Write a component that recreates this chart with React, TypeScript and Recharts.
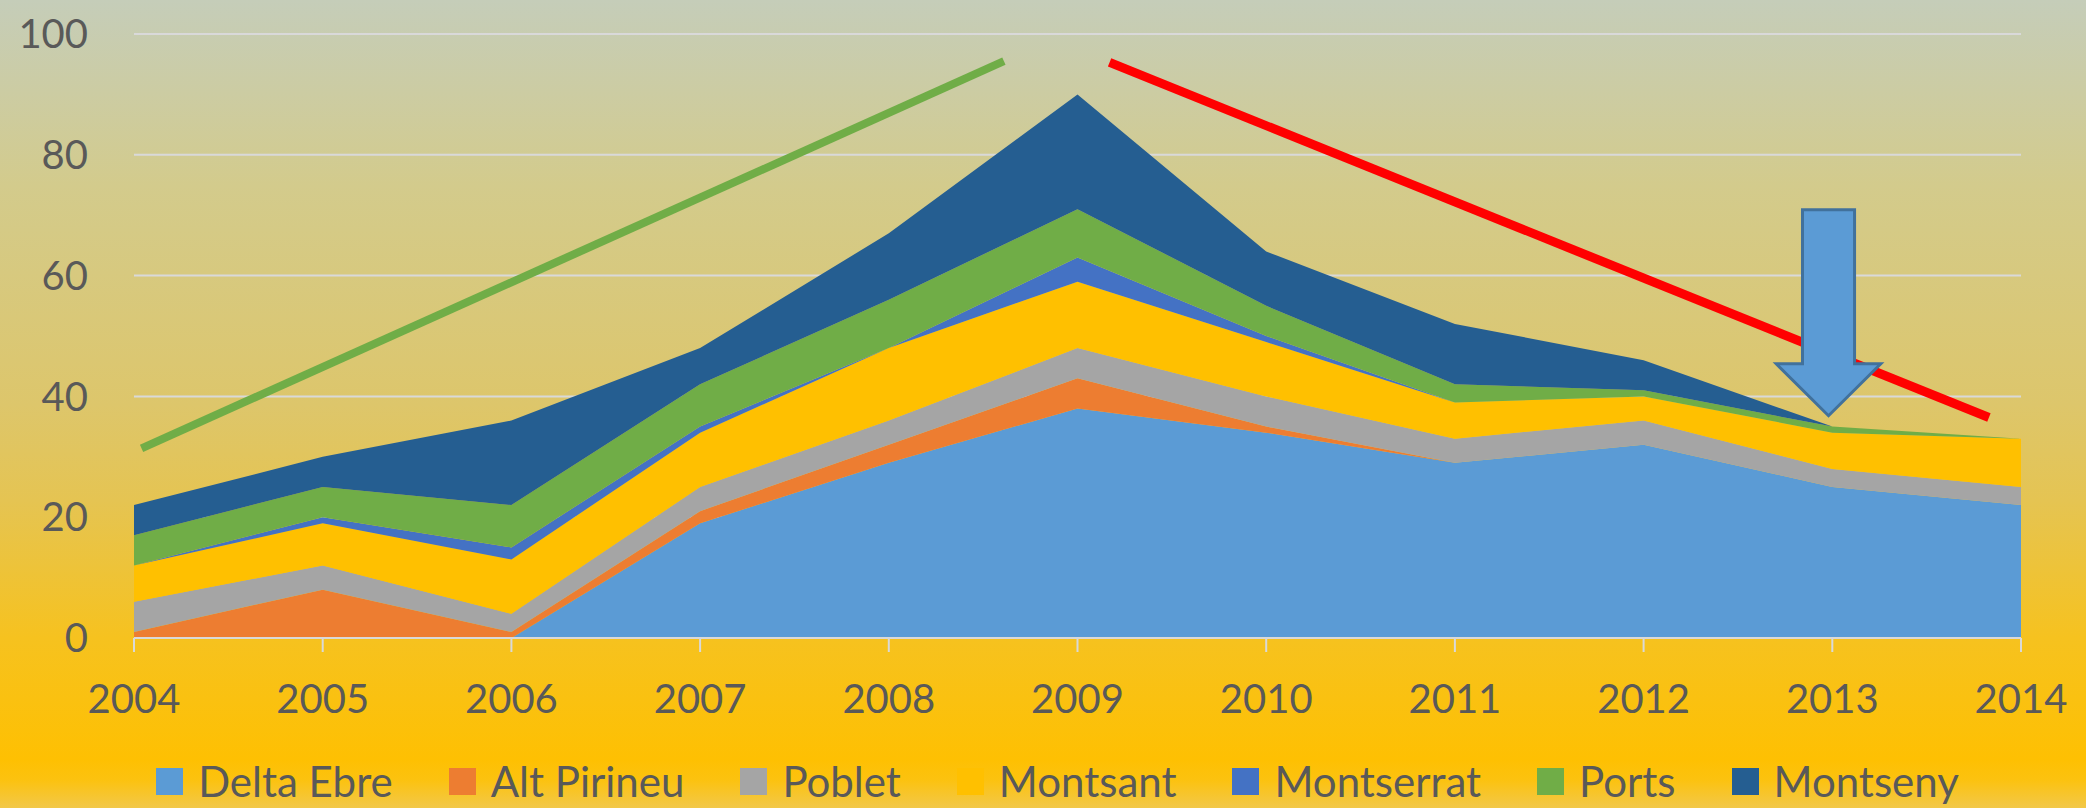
import React from 'react';
import {
  Area,
  AreaChart,
  CartesianGrid,
  Legend,
  ReferenceArea,
  ReferenceLine,
  XAxis,
  YAxis
} from 'recharts';

// years on the x axis
const years = [2004, 2005, 2006, 2007, 2008, 2009, 2010, 2011, 2012, 2013, 2014];

// values per park
const deltaEbre = [0, 0, 0, 19, 29, 38, 34, 29, 32, 25, 22];
const altPirineu = [1, 8, 1, 2, 3, 5, 1, 0, 0, 0, 0];
const poblet = [5, 4, 3, 4, 4, 5, 5, 4, 4, 3, 3];
const montsant = [6, 7, 9, 9, 12, 11, 9, 6, 4, 6, 8];
const montserrat = [0, 1, 2, 1, 0, 4, 1, 0, 0, 0, 0];
const ports = [5, 5, 7, 7, 8, 8, 5, 3, 1, 1, 0];
const montseny = [5, 5, 14, 6, 11, 19, 9, 10, 5, 0, 0];

const yTicks = [0, 20, 40, 60, 80, 100];

const seriesNames = ['Delta Ebre', 'Alt Pirineu', 'Poblet', 'Montsant', 'Montserrat', 'Ports', 'Montseny'];
const seriesValues = [deltaEbre, altPirineu, poblet, montsant, montserrat, ports, montseny];
const seriesColors = ['#5B9BD5', '#ED7D31', '#A5A5A5', '#FFC000', '#4472C4', '#70AD47', '#255E91'];

// hand drawn annotations (data coordinates)
const riseLine = [
  { x: 2004.04, y: 31.4 },
  { x: 2008.61, y: 95.5 }
];
const fallLine = [
  { x: 2009.17, y: 95.3 },
  { x: 2013.83, y: 36.5 }
];
const arrowBox = { x1: 2012.703, x2: 2013.257, y1: 36.8, y2: 70.9 };

const FONT = 'Lato, "Open Sans", sans-serif';
const TEXT = '#595959';
const GRID = '#D9D9D9';

const data = years.map((year, i) => {
  const row: any = { year };
  seriesNames.forEach((name, s) => {
    row[name] = seriesValues[s][i];
  });
  return row;
});

const ArrowShape = (props: any) => {
  const { x, y, width, height } = props;
  const cx = x + width / 2;
  const shaftHalf = (width * 0.498) / 2;
  const headY = y + height * (1 - 0.252);
  const pts = [
    [cx - shaftHalf, y],
    [cx + shaftHalf, y],
    [cx + shaftHalf, headY],
    [x + width, headY],
    [cx, y + height],
    [x, headY],
    [cx - shaftHalf, headY]
  ]
    .map((p) => p.join(','))
    .join(' ');
  return <polygon points={pts} fill="#5B9BD5" stroke="#41719C" strokeWidth={3} />;
};

const renderLegend = () => (
  <div
    style={{
      display: 'flex',
      justifyContent: 'center',
      alignItems: 'center',
      height: 56,
      paddingLeft: 29,
      paddingTop: 2,
      boxSizing: 'border-box',
      fontFamily: FONT,
      fontSize: 42,
      color: TEXT,
      gap: 56
    }}
  >
    {seriesNames.map((name, i) => (
      <div key={name} style={{ display: 'flex', alignItems: 'center' }}>
        <span style={{ width: 27, height: 27, background: seriesColors[i], marginRight: 15, display: 'inline-block' }} />
        <span style={{ lineHeight: '56px' }}>{name}</span>
      </div>
    ))}
  </div>
);

export default function App() {
  return (
    <div
      style={{
        position: 'absolute',
        left: 0,
        top: 0,
        width: 2086,
        height: 808,
        background:
          'linear-gradient(to bottom, #C5CDB9 0%, #D3CB8C 23%, #DDC66B 50%, #E5C452 62%, #F6C21F 79%, #FEC002 94%, #FCC20F 96.5%, #F2C849 100%)'
      }}
    >
      <AreaChart width={2086} height={808} data={data} margin={{ top: 34, right: 65, left: 14, bottom: 0 }}>
        <CartesianGrid vertical={false} stroke={GRID} strokeWidth={2} />
        <XAxis
          dataKey="year"
          type="number"
          domain={[2004, 2014]}
          ticks={years}
          interval={0}
          height={114}
          axisLine={{ stroke: GRID, strokeWidth: 2 }}
          tickLine={{ stroke: GRID, strokeWidth: 2 }}
          tickSize={14}
          tickMargin={33}
          tick={{ fill: TEXT, fontSize: 40, fontFamily: FONT }}
        />
        <YAxis
          domain={[0, 100]}
          ticks={yTicks}
          width={120}
          axisLine={false}
          tickLine={false}
          tickSize={0}
          tickMargin={46}
          tick={{ fill: TEXT, fontSize: 40, fontFamily: FONT }}
        />
        {seriesNames.map((name, i) => (
          <Area
            key={name}
            type="linear"
            dataKey={name}
            stackId="1"
            stroke="none"
            fill={seriesColors[i]}
            fillOpacity={1}
            dot={false}
            activeDot={false}
            isAnimationActive={false}
          />
        ))}
        <ReferenceLine segment={riseLine} stroke="#70AD47" strokeWidth={8} ifOverflow="visible" zIndex={450} />
        <ReferenceLine segment={fallLine} stroke="#FF0000" strokeWidth={9} ifOverflow="visible" zIndex={450} />
        <ReferenceArea
          x1={arrowBox.x1}
          x2={arrowBox.x2}
          y1={arrowBox.y1}
          y2={arrowBox.y2}
          ifOverflow="visible"
          shape={ArrowShape}
          zIndex={460}
        />
        <Legend
          verticalAlign="bottom"
          height={56}
          content={renderLegend}
          wrapperStyle={{ left: 0, width: 2086 }}
        />
      </AreaChart>
    </div>
  );
}
